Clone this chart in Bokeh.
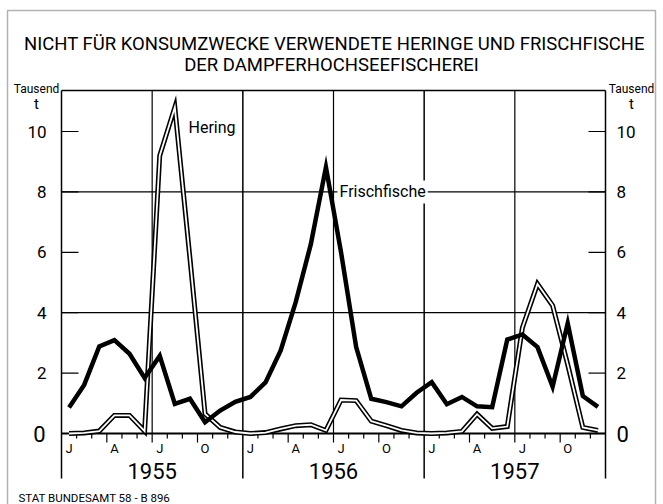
from bokeh.plotting import figure
from bokeh.models import Range1d, Label, BoxAnnotation, ColumnDataSource
from bokeh.core.properties import value
from bokeh.embed import file_html
from bokeh.resources import INLINE

# ---------------- data ----------------
years = ["1955", "1956", "1957"]
quarter_letters = ["J", "A", "J", "O"]
y_ticks = [0, 2, 4, 6, 8, 10]
y_grid = [4, 8]

# Tausend t, monthly values Jan 1955 .. Dec 1957
hering = [0.0, 0.02, 0.08, 0.6, 0.6, 0.08, 9.2, 10.8, 5.8, 0.65, 0.2, 0.05,
          0.0, 0.03, 0.15, 0.26, 0.29, 0.1, 1.11, 1.09, 0.41, 0.26, 0.1, 0.02,
          0.0, 0.02, 0.07, 0.64, 0.17, 0.23, 3.5, 4.95, 4.24, 2.28, 0.2, 0.1]
frischfische = [0.86, 1.61, 2.88, 3.09, 2.64, 1.84, 2.57, 0.98, 1.15, 0.37, 0.76, 1.05,
                1.21, 1.69, 2.74, 4.35, 6.27, 8.82, 6.0, 2.86, 1.15, 1.04, 0.9, 1.35,
                1.7, 0.97, 1.21, 0.9, 0.87, 3.11, 3.28, 2.86, 1.55, 3.65, 1.24, 0.88]

title1 = "NICHT FÜR KONSUMZWECKE VERWENDETE HERINGE UND FRISCHFISCHE"
title2 = "DER DAMPFERHOCHSEEFISCHEREI"
unit_lines = ["Tausend", "t"]
footer = "STAT BUNDESAMT 58 - B 896"

# ---------------- layout (picture pixels) ----------------
FONT = "Roboto"
W, H = 663, 504
FL, FR, FT, FB = 61, 605, 90, 478   # plot edges, bottom = end of dividers
ZERO = 433                           # picture y of value 0
PPU = 30.2                           # px per unit (Tausend t)
n_months = len(hering)
MPX = (FR - FL) / n_months           # px per month

def X(px):
    return (px - FL) / MPX

def Y(py):
    return (ZERO - py) / PPU

p = figure(width=W, height=H, output_backend="svg", toolbar_location=None,
           x_range=Range1d(X(0), X(W)), y_range=Range1d(Y(H), Y(0)),
           x_axis_location=None, y_axis_location=None, min_border=0)
p.outline_line_color = None
p.xgrid.visible = False
p.ygrid.visible = False
p.background_fill_color = "white"
p.border_fill_color = "white"

top = Y(FT)
bottom = Y(FB)
LC = "black"

# outer border
p.add_layout(BoxAnnotation(left=X(7), right=X(655), top=Y(10), bottom=Y(520),
                           fill_alpha=0, line_color=LC, line_width=1.5))

# horizontal grid lines (4, 8) and top edge
p.segment(x0=[0] * len(y_grid), y0=y_grid, x1=[n_months] * len(y_grid), y1=y_grid,
          line_color=LC, line_width=1.2)
p.segment(x0=[0], y0=[top], x1=[n_months], y1=[top], line_color=LC, line_width=1.3)

# inner tick marks on both vertical axes
tick_in = 17 / MPX
p.segment(x0=[0] * len(y_ticks), y0=y_ticks, x1=[tick_in] * len(y_ticks), y1=y_ticks,
          line_color=LC, line_width=1.2)
p.segment(x0=[n_months - tick_in] * len(y_ticks), y0=y_ticks,
          x1=[n_months] * len(y_ticks), y1=y_ticks, line_color=LC, line_width=1.2)

# vertical axes and year dividers (extend below the zero line)
year_bounds = list(range(0, n_months + 1, 12))
p.segment(x0=year_bounds, y0=[bottom] * len(year_bounds), x1=year_bounds,
          y1=[top] * len(year_bounds), line_color=LC, line_width=1.5)

# half-year lines (July)
half_years = [12 * i + 6 for i in range(len(years))]
p.segment(x0=half_years, y0=[0] * len(half_years), x1=half_years,
          y1=[top] * len(half_years), line_color=LC, line_width=1.2)

# zero line
p.segment(x0=[0], y0=[0], x1=[n_months], y1=[0], line_color=LC, line_width=2)

# month ticks below zero line
bounds = [m for m in range(1, n_months) if m % 12 != 0]
tick_len = [(9 if m % 3 == 0 else 5) / PPU for m in bounds]
p.segment(x0=bounds, y0=[0] * len(bounds), x1=bounds, y1=[-t for t in tick_len],
          line_color=LC, line_width=1.2)

# y tick labels, left and right
lbl = [str(v) for v in y_ticks[1:]]
p.text(x=[X(46)] * len(lbl), y=y_ticks[1:], text=lbl, text_font=value(FONT),
       text_font_size="17px", text_align="right", text_baseline="middle", text_color=LC)
p.text(x=[X(616)] * len(lbl), y=y_ticks[1:], text=lbl, text_font=value(FONT),
       text_font_size="17px", text_align="left", text_baseline="middle", text_color=LC)
p.text(x=[X(45), X(616)], y=[y_ticks[0]] * 2, text=[str(y_ticks[0])] * 2,
       text_font=value(FONT), text_font_size="22px", text_align=["right", "left"],
       text_baseline="middle", text_color=LC)

# quarter letters
q_x = [m + 0.5 for m in range(0, n_months, 3)]
q_t = quarter_letters * len(years)
p.text(x=q_x, y=[Y(448)] * len(q_x), text=q_t, text_font=value(FONT),
       text_font_size="13px", text_align="center", text_baseline="middle", text_color=LC)

# year labels
p.text(x=half_years, y=[Y(470)] * len(years), text=years, text_font=value(FONT),
       text_font_size="22px", text_align="center", text_baseline="middle", text_color=LC)

# series
src = ColumnDataSource(dict(x=[m + 0.5 for m in range(n_months)], h=hering, f=frischfische))
p.line("x", "h", source=src, line_color=LC, line_width=5, line_join="miter")
p.line("x", "h", source=src, line_color="white", line_width=1.8, line_join="miter")
p.line("x", "f", source=src, line_color=LC, line_width=4.5, line_join="miter")

# series labels
p.add_layout(Label(x=X(188), y=Y(127), text="Hering", text_font=FONT, text_color=LC,
                   text_font_size="16px", text_baseline="middle", text_align="left"))
p.add_layout(Label(x=X(337), y=8, text="Frischfische", text_font=FONT, text_color=LC,
                   text_font_size="16px", text_baseline="middle", text_align="left",
                   background_fill_color="white", background_fill_alpha=1.0,
                   padding=2))

# titles
p.add_layout(Label(x=X(334), y=Y(43), text=title1, text_font=FONT, text_color=LC,
                   text_font_size="18.5px", text_align="center", text_baseline="middle"))
p.add_layout(Label(x=X(331), y=Y(64), text=title2, text_font=FONT, text_color=LC,
                   text_font_size="18.5px", text_align="center", text_baseline="middle"))

# unit labels
for cx in (36, 631):
    p.add_layout(Label(x=X(cx), y=Y(88), text=unit_lines[0], text_font=FONT, text_color=LC,
                       text_font_size="12px", text_align="center", text_baseline="middle"))
    p.add_layout(Label(x=X(cx), y=Y(103), text=unit_lines[1], text_font=FONT, text_color=LC,
                       text_font_size="15px", text_align="center", text_baseline="middle"))

# footer
p.add_layout(Label(x=X(18), y=Y(497), text=footer, text_font=FONT, text_color=LC,
                   text_font_size="11.5px", text_align="left", text_baseline="middle"))

open("out.html", "w").write(file_html(p, INLINE))
